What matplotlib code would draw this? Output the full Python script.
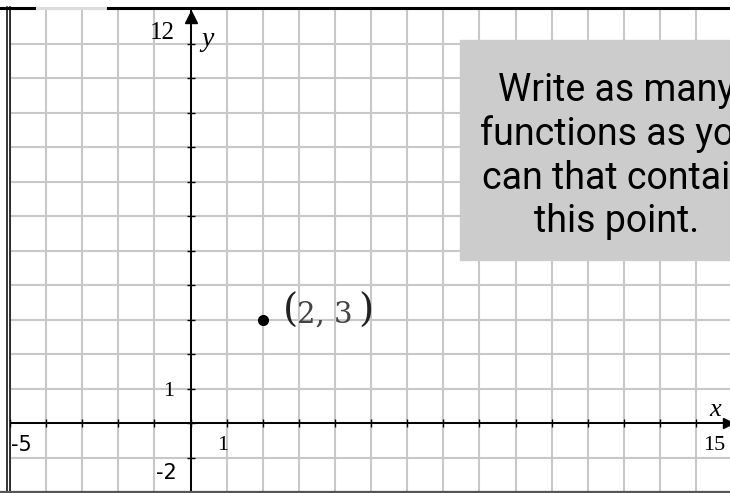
import matplotlib.pyplot as plt
from matplotlib.lines import Line2D
from matplotlib.patches import Rectangle

# window and data
x_min, x_max = -5, 14.94
y_min, y_max = -2, 12
x_ticks = list(range(-5, 15))
y_ticks = list(range(-2, 13))
point_x = [2]
point_y = [3]
point_label = "2, 3"
prompt = "Write as many\nfunctions as you\ncan that contain\nthis point."

W, H = 730, 493
fig = plt.figure(figsize=(W / 100, H / 100), dpi=100)
ax = fig.add_axes([10 / W, 1 / H, 720 / W, 483 / H])
ax.set_xlim(x_min, x_max)
ax.set_ylim(y_min, y_max)

# grid
for v in x_ticks:
    ax.axvline(v, color='#c8c8c8', lw=1.5, zorder=1)
for v in y_ticks:
    ax.axhline(v, color='#c8c8c8', lw=1.5, zorder=1)
ax.set_xticks([])
ax.set_yticks([])
for s in ax.spines.values():
    s.set_visible(False)

# axes
ax.axhline(0, color='black', lw=1.4, zorder=3)
ax.axvline(0, color='black', lw=1.4, zorder=3)
ax.plot(x_ticks, [0] * len(x_ticks), ls='none', marker='|', ms=6, mew=1, color='black', zorder=3)
ax.plot([0] * len(y_ticks[:-1]), y_ticks[:-1], ls='none', marker='_', ms=6, mew=1, color='black', zorder=3)
ax.plot([0], [y_max - 0.22], marker='^', ms=8, color='black', zorder=4, clip_on=False)
ax.plot([x_max - 0.05], [0], marker='>', ms=7, color='black', zorder=4, clip_on=False)

# labels on axes
lab = dict(textcoords='offset pixels', annotation_clip=False, va='center')
ax.annotate('-5', (x_min, 0), xytext=(1, -22), fontsize=15, family='DejaVu Sans', ha='left', **lab)
ax.annotate('1', (1, 0), xytext=(-4, -22), fontsize=16, family='Liberation Serif', ha='center', **lab)
ax.annotate('15', (15, 0), xytext=(-18, -22), fontsize=16, family='Liberation Serif', ha='center', **lab)
ax.annotate('x', (15, 0), xytext=(-17, 13), fontsize=19, family='Liberation Serif',
            style='italic', ha='center', **lab)
ax.annotate('1', (0, 1), xytext=(-16, -3), fontsize=16, family='Liberation Serif', ha='right', **lab)
ax.annotate('-2', (0, y_min), xytext=(-14, 19), fontsize=15, family='DejaVu Sans', ha='right', **lab)
ax.annotate('12', (0, y_max), xytext=(-16, -24), fontsize=18, family='Liberation Serif', ha='right', **lab)
ax.annotate('y', (0, y_max), xytext=(17, -30), fontsize=20, family='Liberation Serif',
            style='italic', ha='center', **lab)

# the point
ax.plot(point_x, point_y, 'o', color='black', ms=7, zorder=5)
ax.annotate('(', (point_x[0], point_y[0]), xytext=(20, 8), textcoords='offset pixels',
            fontsize=28, family='DejaVu Serif', ha='left', va='center', color='#222222')
ax.annotate(point_label, (point_x[0], point_y[0]), xytext=(62, 5), textcoords='offset pixels',
            fontsize=21, family='DejaVu Serif', ha='center', va='center', color='#444444')
ax.annotate(')', (point_x[0], point_y[0]), xytext=(111, 8), textcoords='offset pixels',
            fontsize=28, family='DejaVu Serif', ha='right', va='center', color='#222222')

# prompt box
fig.patches.append(Rectangle((460 / W, (H - 260) / H), 400 / W, 220 / H,
                             transform=fig.transFigure, color='#cccccc', zorder=6))
fig.text(617 / W, (H - 156) / H, prompt, fontsize=27, family='Roboto',
         ha='center', va='center', multialignment='center', linespacing=1.22, zorder=7)

# frame
fig.lines.append(Line2D([6.5 / W] * 2, [0, 1 - 7 / H], transform=fig.transFigure, color='black', lw=1.1))
fig.lines.append(Line2D([10 / W] * 2, [0, 1 - 7 / H], transform=fig.transFigure, color='black', lw=1.1))
fig.lines.append(Line2D([0, 37 / W], [1 - 8 / H] * 2, transform=fig.transFigure, color='black', lw=2.2))
fig.lines.append(Line2D([37 / W, 108 / W], [1 - 8 / H] * 2, transform=fig.transFigure, color='#dddddd', lw=2.2))
fig.lines.append(Line2D([108 / W, 1], [1 - 8 / H] * 2, transform=fig.transFigure, color='black', lw=2.2))
fig.lines.append(Line2D([0, 1], [1.2 / H] * 2, transform=fig.transFigure, color='#555555', lw=1.6))

fig.savefig('out.png', dpi=100)
